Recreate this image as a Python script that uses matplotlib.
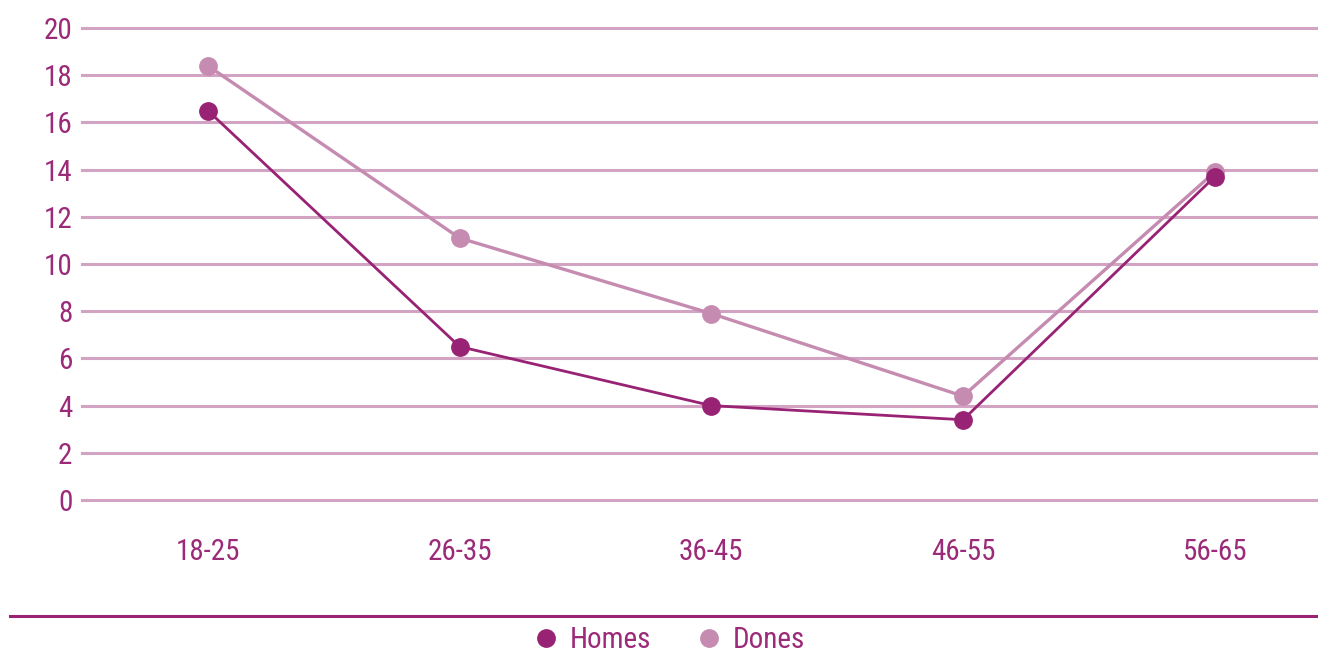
import matplotlib
matplotlib.use("Agg")
import matplotlib.pyplot as plt
from matplotlib.lines import Line2D

categories = ["18-25", "26-35", "36-45", "46-55", "56-65"]
homes = [16.5, 6.5, 4.0, 3.4, 13.7]
dones = [18.4, 11.1, 7.9, 4.4, 13.9]
yticks = [0, 2, 4, 6, 8, 10, 12, 14, 16, 18, 20]

HOMES_C = "#982273"
DONES_C = "#C58BB0"
GRID_C = "#D3A3C3"
TEXT_C = "#9B2A78"

plt.rcParams['font.family'] = ['Roboto Condensed', 'Liberation Sans Narrow', 'DejaVu Sans']
plt.rcParams['font.stretch'] = 'condensed'

fig = plt.figure(figsize=(13.18, 6.59), dpi=100)
ax = fig.add_axes([82/1318, 1 - 500/659, 1236/1318, 472/659])

x = list(range(len(categories)))
for yv in yticks:
    ax.axhline(yv, color=GRID_C, lw=2.2, zorder=1, clip_on=False)
ax.plot(x, dones, color=DONES_C, lw=2.4, marker='o', ms=12.5, zorder=3, label="Dones", clip_on=False)
ax.plot(x, homes, color=HOMES_C, lw=2.0, marker='o', ms=12.5, zorder=4, label="Homes", clip_on=False)

ax.set_ylim(0, 20)
ax.set_xlim(-0.5, 4.41)
ax.set_yticks(yticks)
ax.set_xticks(x)
ax.set_xticklabels(categories)
ax.tick_params(axis='both', length=0, labelsize=21, colors=TEXT_C)
ax.tick_params(axis='y', pad=7)
ax.tick_params(axis='x', pad=27)
for s in ax.spines.values():
    s.set_visible(False)

# legend separator line
fig.add_artist(Line2D([10/1318, 1.0], [1 - 616/659, 1 - 616/659], color=HOMES_C, lw=2.2))

handles = [Line2D([], [], color=HOMES_C, marker='o', ms=12.5, lw=0),
           Line2D([], [], color=DONES_C, marker='o', ms=12.5, lw=0)]
fig.legend(handles, ["Homes", "Dones"], loc='center', bbox_to_anchor=(0.507, 1 - 640/659),
           ncol=2, frameon=False, fontsize=21, labelcolor=TEXT_C, handletextpad=0.3,
           columnspacing=1.5, handlelength=1.0)

fig.savefig("out.png", dpi=100)
